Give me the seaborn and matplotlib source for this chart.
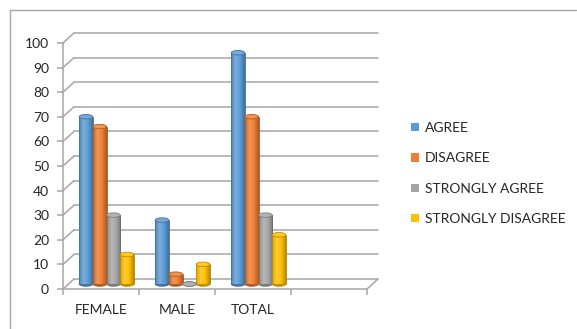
import numpy as np
import pandas as pd
import seaborn as sns
import matplotlib.pyplot as plt
from matplotlib.patches import Ellipse, Patch
from matplotlib.lines import Line2D
from matplotlib.colors import LinearSegmentedColormap, to_rgb

# Survey responses by group
groups = ["FEMALE", "MALE", "TOTAL"]
responses = ["AGREE", "DISAGREE", "STRONGLY AGREE", "STRONGLY DISAGREE"]
female = [68, 64, 28, 12]
male = [26, 4, 0, 8]
total = [94, 68, 28, 20]
y_ticks = list(range(0, 101, 10))
colors = ["#5B9BD5", "#ED7D31", "#A5A5A5", "#FFC000"]

rows = []
for g, vals in zip(groups, [female, male, total]):
    for r, v in zip(responses, vals):
        rows.append({"group": g, "response": r, "count": v})
df = pd.DataFrame(rows)

sns.set_theme(style="white")
plt.rcParams["font.family"] = ["Lato", "DejaVu Sans"]
text_color = "#262626"
grid_color = "#a6a6a6"
fs = 10

W, H = 577, 329
fig = plt.figure(figsize=(W / 100, H / 100), dpi=100)
fig.patch.set_facecolor("white")

# front plane of the pseudo-3D plot area, in pixels
fx0, fx1 = 63, 367
fy0, fy1 = 289, 43
ax = fig.add_axes([fx0 / W, 1 - fy0 / H, (fx1 - fx0) / W, (fy0 - fy1) / H])

sns.barplot(data=df, x="group", y="count", hue="response", order=groups,
            hue_order=responses, palette=colors, width=0.72, ax=ax,
            legend=False, saturation=1)
ax.set_xlim(-0.5, 3.5)
ax.set_ylim(0, 100)

# data units per pixel
ppx = (fx1 - fx0) / 4.0
ppy = (fy0 - fy1) / 100.0
depth_dx, depth_dy = 11 / ppx, 10 / ppy

# back wall gridlines with diagonal connectors to the front axis
for v in y_ticks:
    ax.plot([-0.5 + depth_dx, 3.5 + depth_dx], [v + depth_dy, v + depth_dy],
            color=grid_color, lw=1.1, clip_on=False, zorder=0.5)
    ax.plot([-0.5, -0.5 + depth_dx], [v, v + depth_dy],
            color=grid_color, lw=1.1, clip_on=False, zorder=0.5)
# right edge of the floor
ax.plot([3.5, 3.5 + depth_dx], [0, depth_dy], color=grid_color, lw=1.1,
        clip_on=False, zorder=0.5)


def shade(c, f):
    r = np.array(to_rgb(c))
    return tuple(np.clip(r * f, 0, 1))


def tint(c, f):
    r = np.array(to_rgb(c))
    return tuple(r + (1 - r) * f)


# turn flat bars into cylinders standing midway in the depth
bars = [p for p in ax.patches if p.get_width() > 0]
cap_h = 4.5 / ppy
for i, p in enumerate(bars):
    col = colors[i // len(groups)]
    x, w, h = p.get_x(), p.get_width(), p.get_height()
    x += depth_dx / 2
    y = depth_dy / 2
    p.set_x(x)
    p.set_y(y)
    p.set_facecolor("none")
    p.set_edgecolor("none")
    cmap = LinearSegmentedColormap.from_list(
        "cyl", [shade(col, 0.85), tint(col, 0.2), col, shade(col, 0.72)])
    bottom = Ellipse((x + w / 2, y), w, cap_h, facecolor=shade(col, 0.75),
                     edgecolor=shade(col, 0.7), lw=0.6, zorder=2, clip_on=False)
    ax.add_patch(bottom)
    if h > 0:
        grad = np.linspace(0, 1, 64).reshape(1, -1)
        im = ax.imshow(grad, extent=[x, x + w, y, y + h], aspect="auto",
                       cmap=cmap, zorder=2.5, interpolation="bilinear")
        im.set_clip_on(False)
        ax.plot([x, x], [y, y + h], color=shade(col, 0.75), lw=0.6, zorder=2.6)
        ax.plot([x + w, x + w], [y, y + h], color=shade(col, 0.65), lw=0.6,
                zorder=2.6)
    top = Ellipse((x + w / 2, y + h), w, cap_h, facecolor=tint(col, 0.15),
                  edgecolor=shade(col, 0.75), lw=0.6, zorder=3, clip_on=False)
    ax.add_patch(top)

ax.set_xlim(-0.5, 3.5)
ax.set_ylim(0, 100)
ax.set_facecolor("none")

# axes, ticks and labels
for s in ["top", "right"]:
    ax.spines[s].set_visible(False)
for s in ["left", "bottom"]:
    ax.spines[s].set_color(grid_color)
    ax.spines[s].set_linewidth(1.1)
ax.set_yticks(y_ticks)
ax.set_yticklabels([str(v) for v in y_ticks])
ax.set_xticks([-0.5, 0.5, 1.5, 2.5, 3.5])
ax.set_xticklabels([])
ax.set_xticks(range(len(groups)), minor=True)
ax.set_xticklabels(groups, minor=True)
ax.tick_params(axis="y", which="major", length=4, width=1.1, color=grid_color,
               labelsize=fs, labelcolor=text_color, pad=6, left=True)
ax.tick_params(axis="x", which="major", length=4, width=1.1, color=grid_color,
               bottom=True, direction="out")
ax.tick_params(axis="x", which="minor", length=0, labelsize=fs,
               labelcolor=text_color, pad=11)
ax.set_xlabel("")
ax.set_ylabel("")
ax.grid(False)

# legend
handles = [Patch(facecolor=c, edgecolor="none") for c in colors]
fig.legend(handles, responses, loc="upper left",
           bbox_to_anchor=(411 / W, 1 - 122 / H), frameon=False,
           fontsize=fs, labelcolor=text_color, handlelength=0.55,
           handleheight=0.55, handletextpad=0.45, labelspacing=1.32,
           borderpad=0, borderaxespad=0)

# chart area border (top and left edges)
fig.add_artist(Line2D([10 / W, 576 / W], [1 - 10 / H, 1 - 10 / H],
                      transform=fig.transFigure, color="#a6a6a6", lw=1.0))
fig.add_artist(Line2D([10 / W, 10 / W], [1 - 10 / H, 0],
                      transform=fig.transFigure, color="#a6a6a6", lw=1.0))

fig.savefig("out.png", dpi=100)
